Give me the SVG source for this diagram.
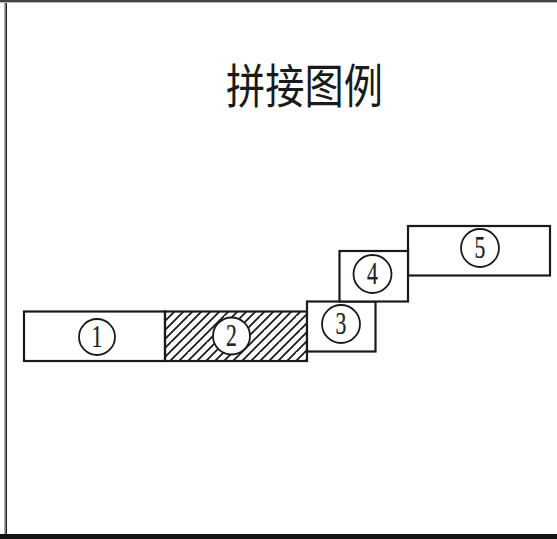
<svg xmlns="http://www.w3.org/2000/svg" width="557" height="539" viewBox="0 0 557 539">
<style>
.box{fill:#fff;stroke:#1a1a1a;stroke-width:2.2}
.badge{fill:#fff;stroke:#1a1a1a;stroke-width:1.8}
.num{font-family:"Liberation Serif",serif;font-size:31px;fill:#222;text-anchor:middle;stroke:#222;stroke-width:.25}
.title{font-family:"Noto Sans CJK SC","Noto Sans CJK JP",sans-serif;font-size:47px;font-weight:400;fill:#1a1a1a}
</style>
<defs>
<pattern id="hatch" patternUnits="userSpaceOnUse" width="36" height="36">
<path d="M-2 11L11 -2M-2 20L20 -2M-2 29L29 -2M-2 38L38 -2M7 38L38 7M16 38L38 16M25 38L38 25M-2 2L2 -2M34 38L38 34" stroke="#1a1a1a" stroke-width="1.8" fill="none"/>
<circle cx="13" cy="7" r="1" fill="#fff"/><circle cx="28" cy="19" r="1" fill="#fff"/><circle cx="9" cy="29" r="1" fill="#fff"/>
</pattern>
</defs>
<rect width="557" height="539" fill="#fff"/>
<g id="frame">
<rect x="0" y="0" width="557" height="2" fill="#444"/>
<rect x="0" y="2" width="557" height="1" fill="#bbb"/>
<rect x="4" y="3" width="1.5" height="531" fill="#aaa"/>
<rect x="5.5" y="3" width="1.5" height="531" fill="#222"/>
<rect x="0" y="534" width="557" height="5" fill="#141414"/>
</g>
<g id="title"><text class="title" x="226" y="103" textLength="157" lengthAdjust="spacingAndGlyphs">拼接图例</text></g>
<g id="node1"><rect class="box" x="24" y="311.5" width="141" height="49.5"/><circle class="badge" cx="97" cy="337" r="18"/><g transform="translate(97 347) scale(.7 1)"><text class="num">1</text></g></g>
<g id="node2"><rect class="box" x="165" y="311.5" width="142" height="49.5" style="fill:url(#hatch)"/><circle class="badge" cx="231.5" cy="336" r="18.5"/><g transform="translate(231.5 346) scale(.7 1)"><text class="num">2</text></g></g>
<g id="node3"><rect class="box" x="307" y="301.5" width="68.5" height="50"/><circle class="badge" cx="341" cy="324" r="19"/><g transform="translate(341 334) scale(.7 1)"><text class="num">3</text></g></g>
<g id="node5"><rect class="box" x="408" y="226" width="142" height="49.5"/><circle class="badge" cx="480" cy="248" r="19"/><g transform="translate(480 258) scale(.7 1)"><text class="num">5</text></g></g>
<g id="node4"><rect class="box" x="339.5" y="251" width="68.5" height="50.5"/><circle class="badge" cx="372.5" cy="274" r="19"/><g transform="translate(372.5 284) scale(.7 1)"><text class="num">4</text></g></g>
</svg>
